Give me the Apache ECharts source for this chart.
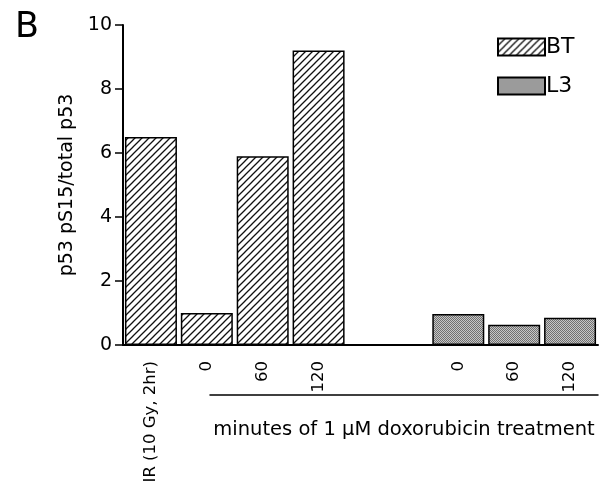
<!DOCTYPE html>
<html>
<head>
<meta charset="utf-8">
<script src="https://cdn.jsdelivr.net/npm/echarts@6/dist/echarts.min.js"></script>
<style>
html,body{margin:0;padding:0;background:#fff;}
#chart{width:600px;height:491px;}
</style>
</head>
<body>
<div id="chart"></div>
<script>
// ---- data ----
var btCategories = ['IR (10 Gy, 2hr)', '0', '60', '120'];
var btValues = [6.5, 1.0, 5.9, 9.2];
var l3Categories = ['0', '60', '120'];
var l3Values = [0.97, 0.63, 0.85];
var yTicks = [0, 2, 4, 6, 8, 10];
var seriesNames = ['BT', 'L3'];
var panelLetter = 'B';
var yTitle = 'p53 pS15/total p53';
var xTitle = 'minutes of 1 \u03bcM doxorubicin treatment';

// ---- layout helpers (slot positions on a half-slot value axis) ----
var BT_START = 1, L3_START = 12, STEP = 2, X_MAX = 17;
var labelAt = {};
var btData = btValues.map(function (v, i) {
  var x = BT_START + STEP * i; labelAt[x] = btCategories[i]; return [x, v];
});
var l3Data = l3Values.map(function (v, i) {
  var x = L3_START + STEP * i; labelAt[x] = l3Categories[i]; return [x, v];
});

function hatch() {
  var c = document.createElement('canvas');
  c.width = 7; c.height = 7;
  var g = c.getContext('2d');
  g.fillStyle = '#fff'; g.fillRect(0, 0, 7, 7);
  g.strokeStyle = '#111'; g.lineWidth = 1.3;
  g.beginPath();
  g.moveTo(-1, 8); g.lineTo(8, -1);
  g.moveTo(-1, 1); g.lineTo(1, -1);
  g.moveTo(6, 8); g.lineTo(8, 6);
  g.stroke();
  return c;
}
function stipple() {
  var c = document.createElement('canvas');
  c.width = 2; c.height = 2;
  var g = c.getContext('2d');
  g.fillStyle = '#c6c6c6'; g.fillRect(0, 0, 2, 2);
  g.fillStyle = '#707070'; g.fillRect(0, 0, 1, 1); g.fillRect(1, 1, 1, 1);
  return c;
}

var FONT = 'DejaVu Sans';
var chart = echarts.init(document.getElementById('chart'), null, {renderer: 'canvas'});
chart.setOption({
  backgroundColor: '#fff',
  animation: false,
  title: {
    text: panelLetter, left: 10, top: 5,
    textStyle: {fontFamily: FONT, fontSize: 35, fontWeight: 'normal', color: '#000'}
  },
  legend: {
    orient: 'vertical', left: 497, top: 36, padding: 0, itemWidth: 47, itemHeight: 17, itemGap: 17,
    icon: 'rect',
    textStyle: {fontFamily: FONT, fontSize: 22, color: '#000', padding: [0, 0, 0, -4]},
    data: seriesNames
  },
  grid: [
    {left: 123, top: 25, right: 2, bottom: 146},
    {left: 210, top: 394, right: 2, height: 1}
  ],
  xAxis: [
    {
      type: 'value', gridIndex: 0, min: 0, max: X_MAX, interval: 1,
      axisLine: {show: true, lineStyle: {color: '#000', width: 2}},
      axisTick: {show: false}, splitLine: {show: false},
      axisLabel: {
        rotate: 90, margin: 16, fontFamily: FONT, fontSize: 16.5, color: '#000',
        showMinLabel: true, showMaxLabel: true,
        formatter: function (v) { return labelAt[v] || ''; }
      }
    },
    {
      type: 'value', gridIndex: 1, min: 0, max: 1,
      axisLine: {show: true, lineStyle: {color: '#000', width: 1.5}},
      axisTick: {show: false}, splitLine: {show: false}, axisLabel: {show: false},
      name: xTitle, nameLocation: 'middle', nameGap: 25,
      nameTextStyle: {fontFamily: FONT, fontSize: 19.5, color: '#000'}
    }
  ],
  yAxis: [
    {
      type: 'value', gridIndex: 0, min: yTicks[0], max: yTicks[yTicks.length - 1], interval: 2,
      axisLine: {show: true, lineStyle: {color: '#000', width: 2}},
      axisTick: {show: true, length: 8, lineStyle: {color: '#000', width: 1.5}},
      splitLine: {show: false},
      axisLabel: {margin: 11, fontFamily: FONT, fontSize: 19, color: '#000'},
      name: yTitle, nameLocation: 'middle', nameGap: 45,
      nameTextStyle: {fontFamily: FONT, fontSize: 19, color: '#000'}
    },
    {type: 'value', gridIndex: 1, show: false}
  ],
  series: [
    {
      name: seriesNames[0], type: 'bar', xAxisIndex: 0, yAxisIndex: 0,
      barWidth: 52, barGap: '-100%', data: btData,
      itemStyle: {color: {image: hatch(), repeat: 'repeat'}, borderColor: '#000', borderWidth: 1.5}
    },
    {
      name: seriesNames[1], type: 'bar', xAxisIndex: 0, yAxisIndex: 0,
      barWidth: 52, barGap: '-100%', data: l3Data,
      itemStyle: {color: {image: stipple(), repeat: 'repeat'}, borderColor: '#000', borderWidth: 1.5}
    }
  ]
});
</script>
</body>
</html>
